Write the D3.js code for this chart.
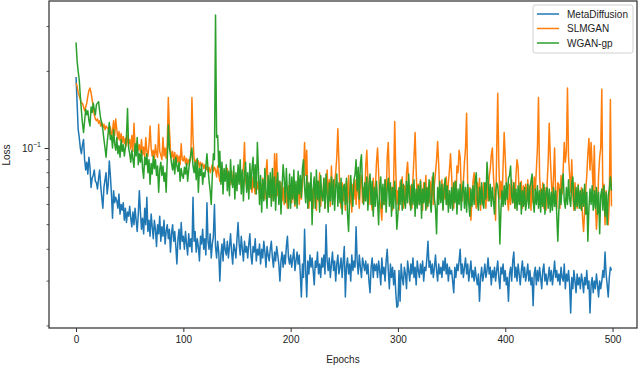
<!DOCTYPE html>
<html>
<head>
<meta charset="utf-8">
<script src="https://cdn.jsdelivr.net/npm/d3@7"></script>
<style>
  body { margin: 0; background: #fff; }
  text { font-family: "Liberation Sans", Arial, sans-serif; fill: #222; }
</style>
</head>
<body>
<svg id="chart" width="640" height="366"></svg>
<script>
// loss per epoch
const metaDiffusion = [
  .19,.15,.118,.11,.1,.095,.103,.108,.09,.082,
  .088,.079,.092,.084,.07,.076,.078,.082,.074,.073,
  .069,.076,.082,.071,.064,.058,.07,.075,.08,.066,
  .072,.089,.078,.066,.053,.068,.061,.064,.062,.058,
  .066,.055,.06,.057,.061,.052,.058,.051,.056,.054,
  .059,.053,.049,.056,.05,.058,.052,.047,.055,.068,
  .056,.048,.053,.046,.058,.05,.064,.047,.052,.045,
  .055,.049,.044,.052,.048,.041,.05,.046,.054,.043,
  .049,.045,.052,.042,.047,.05,.044,.048,.039,.046,
  .05,.043,.047,.041,.035,.044,.048,.04,.051,.043,
  .045,.04,.047,.042,.038,.046,.041,.044,.039,.064,
  .043,.047,.039,.044,.041,.036,.045,.042,.048,.04,
  .044,.038,.061,.043,.04,.046,.037,.042,.045,.06,
  .041,.037,.043,.039,.03,.038,.042,.036,.044,.04,
  .038,.043,.037,.041,.046,.039,.035,.042,.04,.037,
  .044,.051,.042,.038,.045,.04,.036,.043,.039,.041,
  .037,.042,.046,.038,.035,.041,.039,.044,.036,.04,
  .038,.042,.035,.04,.037,.043,.039,.034,.041,.038,
  .036,.04,.043,.037,.034,.039,.036,.041,.038,.035,
  .03,.036,.039,.034,.038,.035,.041,.045,.037,.035,
  .038,.034,.037,.04,.033,.036,.039,.035,.038,.032,
  .026,.035,.031,.048,.033,.026,.036,.032,.038,.034,
  .037,.033,.029,.036,.034,.039,.032,.035,.031,.037,
  .034,.038,.032,.05,.036,.033,.037,.031,.035,.039,
  .033,.036,.03,.035,.038,.032,.034,.037,.031,.036,
  .041,.026,.034,.037,.032,.035,.03,.038,.033,.036,
  .034,.049,.036,.032,.038,.034,.031,.037,.035,.033,
  .036,.032,.035,.03,.027,.034,.037,.031,.035,.033,
  .035,.031,.036,.033,.029,.037,.032,.034,.03,.036,
  .04,.033,.028,.035,.031,.034,.029,.033,.027,.0237,
  .024,.033,.025,.035,.031,.029,.034,.032,.028,.036,
  .033,.03,.035,.032,.037,.031,.034,.029,.036,.033,
  .031,.035,.032,.036,.03,.034,.033,.037,.043,.034,
  .036,.032,.035,.031,.034,.038,.033,.03,.035,.032,
  .034,.031,.036,.033,.037,.032,.035,.03,.034,.032,
  .033,.03,.027,.034,.031,.035,.033,.036,.04,.032,
  .035,.031,.034,.037,.032,.035,.03,.033,.036,.031,
  .033,.03,.034,.031,.029,.032,.025,.031,.034,.03,
  .032,.035,.031,.033,.037,.032,.034,.029,.033,.031,
  .034,.03,.033,.036,.031,.028,.034,.032,.035,.03,
  .033,.029,.031,.025,.032,.034,.03,.036,.039,.031,
  .034,.03,.035,.032,.029,.033,.036,.031,.034,.03,
  .032,.035,.03,.033,.029,.031,.024,.032,.034,.029,
  .033,.03,.034,.031,.028,.033,.035,.03,.032,.029,
  .031,.034,.03,.033,.029,.032,.036,.031,.033,.03,
  .032,.029,.034,.031,.03,.035,.028,.032,.03,.033,
  .029,.0225,.031,.028,.033,.03,.027,.032,.029,.031,
  .028,.032,.03,.027,.031,.029,.033,.028,.03,.0225,
  .029,.031,.027,.03,.028,.032,.029,.026,.03,.028,
  .03,.033,.031,.039,.032,.029,.026,.031,.034,.033
];

const slmgan = [
  .18,.175,.165,.16,.155,.15,.15,.145,.14,.145,
  .15,.16,.168,.172,.165,.155,.145,.135,.13,.128,
  .13,.125,.128,.122,.126,.12,.124,.118,.122,.12,
  .119,.113,.121,.11,.117,.128,.112,.13,.118,.108,
  .116,.107,.114,.105,.111,.104,.109,.102,.112,.104,
  .108,.099,.112,.097,.125,.1,.095,.106,.098,.103,
  .096,.108,.094,.101,.092,.11,.097,.093,.103,.122,
  .1,.093,.098,.09,.103,.095,.092,.124,.097,.094,
  .09,.11,.093,.1,.091,.103,.158,.12,.098,.092,
  .097,.089,.096,.087,.094,.088,.093,.086,.104,.09,
  .089,.093,.087,.091,.086,.09,.088,.092,.158,.11,
  .091,.087,.09,.086,.089,.084,.088,.085,.087,.083,
  .086,.082,.085,.081,.084,.08,.083,.086,.081,.084,
  .082,.077,.085,.079,.074,.083,.078,.082,.075,.08,
  .076,.083,.074,.08,.072,.081,.073,.079,.071,.078,
  .072,.079,.074,.08,.07,.076,.084,.105,.075,.07,
  .076,.068,.079,.072,.067,.077,.07,.066,.075,.069,
  .074,.066,.072,.064,.076,.068,.063,.08,.09,.068,
  .073,.064,.075,.067,.062,.095,.07,.095,.065,.074,
  .066,.073,.062,.07,.06,.072,.065,.058,.071,.063,
  .07,.061,.074,.064,.059,.072,.063,.076,.06,.07,
  .063,.072,.08,.105,.078,.098,.064,.058,.071,.062,
  .069,.058,.075,.063,.057,.074,.062,.08,.059,.068,
  .064,.076,.058,.071,.082,.062,.075,.059,.085,.066,
  .068,.074,.08,.092,.119,.088,.065,.058,.073,.062,
  .07,.057,.074,.061,.078,.06,.069,.056,.072,.063,
  .075,.06,.08,.066,.058,.073,.078,.061,.07,.062,
  .085,.098,.074,.06,.072,.062,.057,.076,.061,.07,
  .088,.1,.08,.063,.058,.052,.07,.06,.075,.063,
  .092,.105,.074,.061,.07,.057,.074,.127,.082,.06,
  .068,.057,.074,.062,.077,.058,.071,.06,.08,.088,
  .072,.06,.071,.058,.076,.092,.115,.082,.062,.072,
  .06,.075,.064,.057,.073,.062,.078,.058,.07,.061,
  .074,.063,.077,.06,.072,.08,.09,.106,.086,.064,
  .062,.075,.058,.072,.063,.077,.06,.073,.082,.095,
  .078,.064,.058,.074,.062,.085,.08,.098,.092,.07,
  .062,.074,.088,.1,.137,.072,.06,.07,.052,.063,
  .074,.08,.063,.058,.073,.061,.076,.057,.071,.06,
  .073,.063,.058,.074,.062,.077,.082,.094,.1,.078,
  .066,.052,.095,.164,.088,.063,.074,.06,.085,.115,
  .092,.072,.063,.057,.072,.06,.075,.061,.073,.058,
  .078,.09,.084,.066,.06,.074,.058,.071,.06,.072,
  .062,.075,.06,.071,.057,.074,.061,.077,.068,.082,
  .1,.158,.078,.065,.06,.073,.058,.07,.057,.072,
  .088,.125,.092,.074,.062,.077,.1,.065,.058,.073,
  .072,.058,.078,.066,.082,.105,.088,.097,.172,.092,
  .078,.067,.09,.065,.057,.073,.062,.058,.072,.06,
  .058,.07,.054,.047,.056,.068,.078,.095,.109,.082,
  .105,.085,.068,.102,.062,.048,.057,.078,.092,.1,
  .17,.062,.072,.05,.068,.056,.05,.062,.155,.059
];

const wganGp = [
  .26,.22,.2,.185,.16,.14,.125,.115,.128,.142,
  .135,.14,.128,.122,.145,.138,.15,.142,.135,.148,
  .15,.152,.14,.13,.125,.118,.108,.1,.092,.105,
  .115,.126,.108,.112,.1,.118,.104,.098,.11,.095,
  .102,.092,.108,.097,.103,.093,.1,.112,.143,.1,
  .095,.088,.098,.09,.084,.104,.093,.11,.086,.095,
  .088,.098,.083,.076,.092,.086,.095,.08,.09,.072,
  .087,.079,.093,.083,.09,.078,.085,.067,.082,.088,
  .078,.085,.074,.08,.067,.09,.123,.1,.094,.087,
  .082,.09,.079,.092,.085,.081,.088,.074,.083,.078,
  .076,.084,.079,.087,.074,.082,.089,.095,.1,.085,
  .08,.088,.075,.091,.067,.083,.078,.086,.072,.08,
  .077,.085,.095,.083,.074,.068,.06,.078,.095,.09,
  .333,.11,.112,.084,.097,.072,.088,.066,.083,.074,
  .086,.068,.081,.065,.09,.074,.07,.085,.063,.08,
  .068,.086,.072,.09,.066,.082,.062,.079,.088,.067,
  .08,.063,.087,.069,.083,.092,.07,.086,.066,.105,
  .082,.06,.078,.056,.075,.062,.083,.068,.058,.078,
  .064,.08,.059,.083,.062,.077,.057,.072,.08,.06,
  .074,.055,.07,.086,.076,.061,.083,.067,.058,.079,
  .058,.077,.063,.082,.06,.074,.058,.081,.066,.078,
  .064,.083,.09,.07,.061,.078,.058,.073,.062,.08,
  .05,.069,.077,.058,.082,.063,.074,.056,.078,.065,
  .062,.076,.058,.079,.065,.056,.073,.062,.077,.06,
  .075,.057,.071,.079,.059,.073,.061,.076,.055,.07,
  .072,.06,.076,.055,.047,.064,.078,.066,.059,.075,
  .079,.09,.068,.084,.063,.087,.094,.07,.06,.073,
  .062,.077,.057,.072,.079,.06,.074,.054,.07,.059,
  .074,.062,.05,.071,.077,.058,.072,.06,.075,.056,
  .069,.076,.059,.073,.054,.07,.058,.074,.062,.048,
  .055,.07,.06,.075,.057,.072,.062,.058,.074,.061,
  .079,.063,.057,.072,.06,.075,.054,.069,.058,.071,
  .06,.074,.053,.069,.061,.073,.057,.07,.059,.075,
  .062,.056,.071,.08,.063,.058,.046,.07,.06,.074,
  .061,.072,.057,.069,.076,.06,.071,.056,.068,.058,
  .07,.057,.073,.061,.074,.055,.069,.06,.072,.057,
  .068,.074,.058,.07,.056,.072,.061,.054,.069,.059,
  .071,.06,.074,.08,.062,.057,.07,.06,.073,.061,
  .058,.073,.063,.088,.075,.062,.072,.059,.07,.062,
  .055,.067,.073,.071,.063,.042,.057,.068,.059,.071,
  .06,.073,.063,.076,.078,.085,.065,.061,.073,.058,
  .069,.057,.071,.06,.073,.055,.068,.059,.07,.057,
  .061,.072,.058,.07,.074,.079,.062,.056,.069,.06,
  .071,.058,.068,.056,.069,.059,.072,.055,.067,.07,
  .058,.069,.056,.067,.057,.07,.059,.068,.055,.043,
  .057,.069,.06,.072,.079,.062,.058,.07,.06,.075,
  .063,.059,.073,.077,.061,.057,.07,.059,.071,.058,
  .068,.057,.069,.059,.072,.055,.067,.043,.058,.069,
  .06,.071,.057,.068,.058,.07,.055,.067,.046,.065,
  .069,.057,.071,.054,.067,.05,.065,.069,.077,.068
];

const seriesNames = ["MetaDiffusion", "SLMGAN", "WGAN-gp"];
const seriesColors = ["#1f77b4", "#ff7f0e", "#2ca02c"];
const xTicks = [0, 100, 200, 300, 400, 500];
const yMinorTicks = [0.02, 0.03, 0.04, 0.05, 0.06, 0.07, 0.08, 0.09, 0.2, 0.3];

const allSeries = [metaDiffusion, slmgan, wganGp];

const margin = { top: 1, right: 3, bottom: 38, left: 49 };
const W = 640, H = 366;

const svg = d3.select("#chart");

const x = d3.scaleLinear().domain([-25.2, 522.8]).range([margin.left, W - margin.right]);
const y = d3.scaleLog().domain([0.01963, 0.378]).range([H - margin.bottom, margin.top]);

// lines (drawn first, frame on top)
const line = d3.line()
    .x((d, i) => x(i))
    .y(d => y(d));

svg.append("defs").append("clipPath").attr("id", "clip")
    .append("rect")
    .attr("x", margin.left).attr("y", margin.top)
    .attr("width", W - margin.left - margin.right)
    .attr("height", H - margin.top - margin.bottom);

const plot = svg.append("g").attr("clip-path", "url(#clip)");

allSeries.forEach((s, k) => {
    plot.append("path")
        .datum(s)
        .attr("fill", "none")
        .attr("stroke", seriesColors[k])
        .attr("stroke-width", 1.5)
        .attr("stroke-linejoin", "round")
        .attr("d", line);
});

// x axis
const xAxis = d3.axisBottom(x).tickValues(xTicks).tickSize(4).tickPadding(4).tickFormat(d3.format("d"));
const gx = svg.append("g")
    .attr("transform", "translate(0," + (H - margin.bottom) + ")")
    .call(xAxis);
gx.select(".domain").remove();
gx.selectAll("line").attr("stroke", "#333").attr("stroke-width", 1);
gx.selectAll("text").style("font-size", "10px").attr("fill", "#222");

// y axis: major tick at 0.1, minors elsewhere
const gy = svg.append("g").attr("transform", "translate(" + margin.left + ",0)");
gy.call(d3.axisLeft(y).tickValues([0.1]).tickSize(4.5).tickFormat(""));
gy.call(g => g.select(".domain").remove());
gy.selectAll("line").attr("stroke", "#333").attr("stroke-width", 1);

gy.selectAll(".minor")
    .data(yMinorTicks)
    .enter().append("line")
    .attr("class", "minor")
    .attr("x1", -2.5).attr("x2", 0)
    .attr("y1", d => y(d)).attr("y2", d => y(d))
    .attr("stroke", "#333").attr("stroke-width", 0.8);

const lab = gy.append("text")
    .attr("x", -8).attr("y", y(0.1) + 4)
    .attr("text-anchor", "end")
    .style("font-size", "10px");
lab.append("tspan").text("10");
lab.append("tspan").attr("dy", -5).style("font-size", "7px").text("\u22121");

// frame
svg.append("rect")
    .attr("x", margin.left).attr("y", margin.top)
    .attr("width", W - margin.left - margin.right)
    .attr("height", H - margin.top - margin.bottom)
    .attr("fill", "none")
    .attr("stroke", "#333")
    .attr("stroke-width", 1.25);

// axis titles
svg.append("text")
    .attr("x", (margin.left + W - margin.right) / 2)
    .attr("y", 363)
    .attr("text-anchor", "middle")
    .style("font-size", "10px")
    .text("Epochs");

svg.append("text")
    .attr("transform", "translate(10," + 155 + ") rotate(-90)")
    .attr("text-anchor", "middle")
    .style("font-size", "10px")
    .text("Loss");

// legend
const lg = svg.append("g").attr("transform", "translate(533,5)");
lg.append("rect")
    .attr("width", 100).attr("height", 48)
    .attr("rx", 2)
    .attr("fill", "#fff")
    .attr("fill-opacity", 0.8)
    .attr("stroke", "#d0d0d0")
    .attr("stroke-width", 1);

seriesNames.forEach((name, k) => {
    const yy = 9 + k * 14.5;
    lg.append("line")
        .attr("x1", 4).attr("x2", 26)
        .attr("y1", yy).attr("y2", yy)
        .attr("stroke", seriesColors[k])
        .attr("stroke-width", 1.5);
    lg.append("text")
        .attr("x", 34).attr("y", yy + 3.5)
        .style("font-size", "10px")
        .text(name);
});
</script>
</body>
</html>
